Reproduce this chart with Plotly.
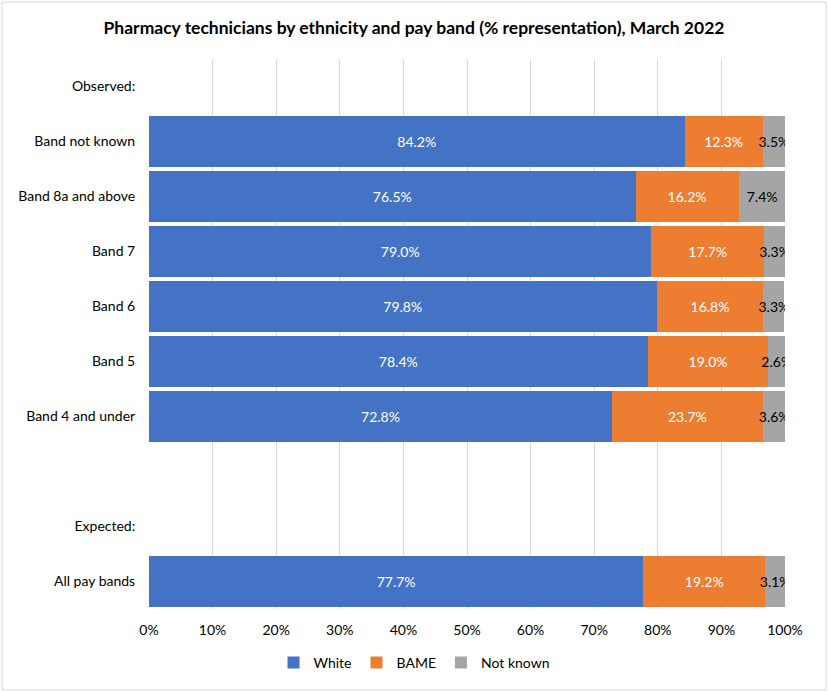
import plotly.graph_objects as go

# --- Datos ---
categorias = ["Observed:", "Band not known", "Band 8a and above", "Band 7", "Band 6",
              "Band 5", "Band 4 and under", " ", "Expected:", "All pay bands"]
white = [None, 84.2, 76.5, 79.0, 79.8, 78.4, 72.8, None, None, 77.7]
bame = [None, 12.3, 16.2, 17.7, 16.8, 19.0, 23.7, None, None, 19.2]
not_known = [None, 3.5, 7.4, 3.3, 3.3, 2.6, 3.6, None, None, 3.1]
ticks_x = [0, 10, 20, 30, 40, 50, 60, 70, 80, 90, 100]

FUENTE = "Lato"


def etiquetas(vals):
    return ["" if v is None else f"{v:.1f}%" for v in vals]


fig = go.Figure()
series = [
    ("White", white, "#4472c4", "white"),
    ("BAME", bame, "#ed7d31", "white"),
    ("Not known", not_known, "#a5a5a5", "black"),
]
for nombre, vals, color, color_txt in series:
    fig.add_trace(go.Bar(
        y=categorias, x=vals, name=nombre, orientation="h",
        marker=dict(color=color, line_width=0),
        text=etiquetas(vals), textposition="inside", insidetextanchor="middle",
        textangle=0, constraintext="none",
        textfont=dict(family=FUENTE, size=14, color=color_txt),
        hovertemplate="%{y}: %{x:.1f}%<extra>" + nombre + "</extra>",
    ))

fig.update_layout(
    width=828, height=692,
    barmode="stack", bargap=0.09,
    plot_bgcolor="white", paper_bgcolor="white",
    font=dict(family=FUENTE, size=14, color="#000000"),
    title=dict(text="<b>Pharmacy technicians by ethnicity and pay band (% representation), March 2022</b>",
               x=0.5, xanchor="center", y=0.96, yanchor="middle",
               font=dict(family=FUENTE, size=17.5, color="#000000")),
    margin=dict(l=149, r=43, t=59, b=83),
    legend=dict(orientation="h", x=0.4167, xanchor="center",
                y=-0.098, yanchor="middle", itemwidth=30,
                font=dict(size=14), traceorder="normal"),
    showlegend=True,
)
fig.update_xaxes(range=[0, 100], tickvals=ticks_x, ticktext=[f"{t}%" for t in ticks_x],
                 tickangle=0, showgrid=True, gridcolor="#d9d9d9", zeroline=False,
                 showline=False, ticks="outside", ticklen=8, tickcolor="white",
                 tickfont=dict(size=14))
fig.update_yaxes(categoryorder="array", categoryarray=categorias, autorange="reversed",
                 showgrid=False, showline=False, ticks="outside", ticklen=10,
                 tickcolor="white", tickfont=dict(size=14))

# --- Borde exterior ---
fig.add_shape(type="rect", xref="paper", yref="paper",
              x0=-0.2311, x1=1.0645, y0=-0.1473, y1=1.1036,
              line=dict(color="#d9d9d9", width=1), fillcolor="rgba(0,0,0,0)")

# quitar el margen del body para que la figura ocupe toda la ventana
fig.write_html("out.html", config={"displayModeBar": False},
               post_script="document.body.style.margin='0';")
